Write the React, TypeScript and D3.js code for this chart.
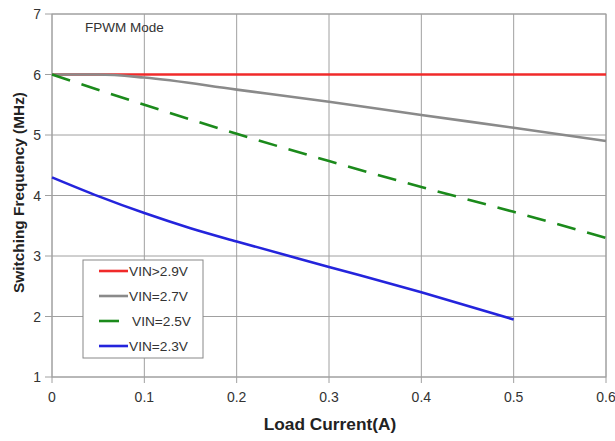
import React from "react";
import * as d3 from "d3";

const xTicks = [0, 0.1, 0.2, 0.3, 0.4, 0.5, 0.6];
const yTicks = [1, 2, 3, 4, 5, 6, 7];

const loadRed = [0, 0.1, 0.2, 0.3, 0.4, 0.5, 0.6];
const freqRed = [6, 6, 6, 6, 6, 6, 6];

const loadGray = [0, 0.05, 0.1, 0.2, 0.3, 0.4, 0.5, 0.6];
const freqGray = [6, 6, 5.95, 5.75, 5.55, 5.33, 5.12, 4.9];

const loadGreen = [0, 0.1, 0.2, 0.3, 0.4, 0.5, 0.6];
const freqGreen = [6, 5.5, 5.02, 4.57, 4.14, 3.73, 3.3];

const loadBlue = [0, 0.05, 0.1, 0.15, 0.2, 0.3, 0.4, 0.5];
const freqBlue = [4.3, 3.99, 3.71, 3.46, 3.24, 2.82, 2.4, 1.95];

const seriesNames = ["VIN>2.9V", "VIN=2.7V", "VIN=2.5V", "VIN=2.3V"];

const W = 615, H = 441;
const L = 52, R = 606, T = 14, B = 377;

export default function App() {
  const x = d3.scaleLinear().domain([0, 0.6]).range([L, R]);
  const y = d3.scaleLinear().domain([1, 7]).range([B, T]);
  const line = d3.line<[number, number]>().x(d => x(d[0])).y(d => y(d[1])).curve(d3.curveMonotoneX);
  const zip = (a: number[], b: number[]) => a.map((v, i) => [v, b[i]] as [number, number]);

  const series = [
    { name: seriesNames[0], data: zip(loadRed, freqRed), color: "#f02a2a", dash: undefined as string | undefined },
    { name: seriesNames[1], data: zip(loadGray, freqGray), color: "#8a8a8a", dash: undefined },
    { name: seriesNames[2], data: zip(loadGreen, freqGreen), color: "#1b8a1b", dash: "19 12" },
    { name: seriesNames[3], data: zip(loadBlue, freqBlue), color: "#2424dc", dash: undefined },
  ];
  const font = "Liberation Sans, Arial, sans-serif";
  const grid = "#a0a0a0";

  return (
    <svg width={W} height={H} style={{ position: "absolute", left: 0, top: 0, background: "#fff" }} fontFamily={font}>
      <rect x={0} y={0} width={W} height={H} fill="#fff" />
      {xTicks.map(t => (
        <g key={"x" + t}>
          <line x1={x(t)} x2={x(t)} y1={T} y2={B + 6} stroke={grid} strokeWidth={1} />
          <text x={x(t)} y={B + 25} textAnchor="middle" fontSize={14} fill="#333">{t}</text>
        </g>
      ))}
      {yTicks.map(t => (
        <g key={"y" + t}>
          <line x1={L - 7} x2={R} y1={y(t)} y2={y(t)} stroke={grid} strokeWidth={1} />
          <text x={L - 11} y={y(t) + 5} textAnchor="end" fontSize={14} fill="#333">{t}</text>
        </g>
      ))}
      <rect x={L} y={T} width={R - L} height={B - T} fill="none" stroke={grid} />
      {series.map(s => (
        <path key={s.name} d={line(s.data) || ""} fill="none" stroke={s.color} strokeWidth={2.6} strokeDasharray={s.dash} />
      ))}
      <text x={85} y={32} fontSize={13.5} fill="#333">FPWM Mode</text>
      <rect x={83} y={260} width={120} height={98} fill="#fff" stroke="#888" />
      {series.map((s, i) => {
        const yy = 271 + i * 25;
        return (
          <g key={"lg" + i}>
            {s.dash ? (
              <line x1={99} x2={119} y1={yy} y2={yy} stroke={s.color} strokeWidth={2.6} />
            ) : (
              <line x1={99} x2={128} y1={yy} y2={yy} stroke={s.color} strokeWidth={2.6} />
            )}
            <text x={s.dash ? 132 : 129} y={yy + 5} fontSize={13.7} fill="#333">{s.name}</text>
          </g>
        );
      })}
      <text x={330} y={430} textAnchor="middle" fontSize={17.3} fontWeight="bold" fill="#222">Load Current(A)</text>
      <text transform="translate(24,192.5) rotate(-90)" textAnchor="middle" fontSize={15.4} fontWeight="bold" fill="#222">Switching Frequency (MHz)</text>
    </svg>
  );
}
